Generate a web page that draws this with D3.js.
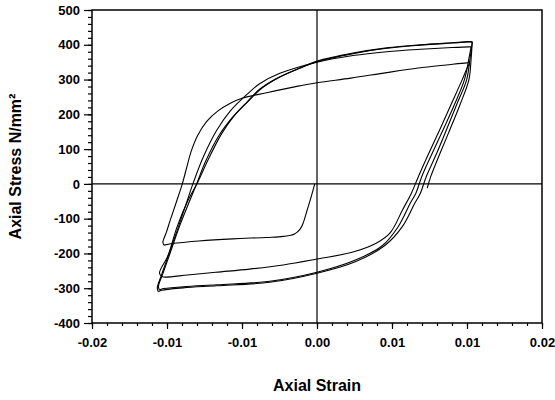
<!DOCTYPE html>
<html>
<head>
<meta charset="utf-8">
<script src="https://cdn.jsdelivr.net/npm/d3@7"></script>
<style>
body { margin: 0; background: #fff; }
svg { display: block; }
.tick text { font-family: "Liberation Sans", Arial, sans-serif; font-weight: bold; font-size: 13px; fill: #000; }
.tick line { stroke: #000; stroke-width: 1.2; }
</style>
</head>
<body>
<div id="chart"></div>
<script>
// [strain, stress] readings, one array per branch of the cyclic test
const initialCompression = [[-0.0002, 0], [-0.0005, -35], [-0.0009, -78], [-0.0012, -110], [-0.0015, -130], [-0.0020, -144],
    [-0.0030, -151], [-0.0045, -154], [-0.0075, -158], [-0.0105, -164], [-0.0125, -170], [-0.0136, -176]];

const tension1 = [[-0.0136, -176], [-0.0137, -168], [-0.0134, -140], [-0.0130, -100], [-0.0125, -52], [-0.0120, -3],
    [-0.0116, 45], [-0.0112, 92], [-0.0106, 140], [-0.0098, 180], [-0.0088, 210], [-0.0077, 232], [-0.0066, 247],
    [-0.0045, 262], [-0.0020, 279], [0, 291], [0.0030, 304], [0.0062, 320], [0.0090, 333], [0.0115, 342],
    [0.0133, 348], [0.0136, 348]];

const unload1 = [[0.0136, 348], [0.0133, 330], [0.0129, 299], [0.0119, 227], [0.0109, 155], [0.0099, 85], [0.0090, 20],
    [0.0084, -26], [0.0076, -75], [0.0065, -141], [0.0053, -170], [0.0032, -196], [0, -216], [-0.0030, -233],
    [-0.0060, -245], [-0.0090, -254], [-0.0115, -262], [-0.0135, -268], [-0.0138, -266]];

const tension2 = [[-0.0138, -266], [-0.0140, -256], [-0.0133, -210], [-0.0126, -150], [-0.0119, -83], [-0.0114, -35],
    [-0.0110, 3], [-0.0101, 78], [-0.0089, 155], [-0.0077, 210], [-0.0062, 258], [-0.0051, 288], [-0.0033, 318],
    [0, 350], [0.0032, 369], [0.0062, 380], [0.0092, 387], [0.0120, 392], [0.0135, 394], [0.0137, 394]];

const unload2 = [[0.0137, 394], [0.0135, 360], [0.0131, 299], [0.0122, 227], [0.0112, 155], [0.0102, 85], [0.0093, 20],
    [0.0088, -26], [0.0083, -55], [0.0072, -124], [0.0058, -178], [0.0032, -222], [0, -254], [-0.0042, -280],
    [-0.0089, -290], [-0.0119, -296], [-0.0138, -302], [-0.0140, -305]];

const tension3 = [[-0.0140, -305], [-0.0141, -296], [-0.0137, -258], [-0.0131, -203], [-0.0122, -120], [-0.0114, -55],
    [-0.0107, 0], [-0.0099, 65], [-0.0087, 140], [-0.0075, 192], [-0.0062, 236], [-0.0051, 272], [-0.0036, 303],
    [-0.0015, 333], [0, 351], [0.0032, 374], [0.0062, 390], [0.0092, 399], [0.0120, 405], [0.0134, 408], [0.0138, 408]];

const unload3 = [[0.0138, 408], [0.0136, 360], [0.0133, 299], [0.0124, 227], [0.0115, 155], [0.0106, 85], [0.0097, 20],
    [0.0092, -26], [0.0087, -55], [0.0076, -122], [0.0060, -178], [0.0034, -224], [0, -257], [-0.0042, -283],
    [-0.0089, -293], [-0.0119, -299], [-0.0138, -306], [-0.0141, -310]];

const tension4 = [[-0.0141, -310], [-0.0142, -300], [-0.0138, -260], [-0.0132, -204], [-0.0124, -120], [-0.0115, -50],
    [-0.0106, 5], [-0.0097, 68], [-0.0085, 143], [-0.0074, 194], [-0.0061, 238], [-0.0050, 273], [-0.0035, 304],
    [-0.0014, 335], [0, 353], [0.0032, 376], [0.0062, 391], [0.0092, 400], [0.0120, 406], [0.0134, 409], [0.0138, 409]];

const unload4 = [[0.0138, 409], [0.0137, 360], [0.0135, 299], [0.0127, 227], [0.0118, 155], [0.0109, 85], [0.0101, 20],
    [0.0098, -12]];

const branches = [initialCompression, tension1, unload1, tension2, unload2, tension3, unload3, tension4, unload4];

const xTickValues = [-0.02, -0.013333, -0.006667, 0, 0.006667, 0.013333, 0.02];
const xTickLabels = ["-0.02", "-0.01", "-0.01", "0.00", "0.01", "0.01", "0.02"];
const yTickValues = [-400, -300, -200, -100, 0, 100, 200, 300, 400, 500];

const width = 555, height = 400;
const margin = {top: 10, left: 92};
const plotW = 450, plotH = 313;

const svg = d3.select("#chart").append("svg")
    .attr("width", width)
    .attr("height", height);

const g = svg.append("g")
    .attr("transform", "translate(" + margin.left + "," + margin.top + ")");

const x = d3.scaleLinear().domain([-0.02, 0.02]).range([0, plotW]);
const y = d3.scaleLinear().domain([-400, 500]).range([plotH, 0]);

// minor ticks: 5 steps between labelled ticks
const xMinor = d3.range(0, 31).map(i => -0.02 + i * 0.04 / 30);
const yMinor = d3.range(-400, 501, 20);

g.append("g")
    .attr("transform", "translate(0," + plotH + ")")
    .call(d3.axisBottom(x).tickValues(xMinor).tickSize(3).tickFormat("").tickSizeOuter(0))
    .call(a => a.select(".domain").remove());

g.append("g")
    .attr("transform", "translate(0," + plotH + ")")
    .call(d3.axisBottom(x).tickValues(xTickValues).tickSize(6).tickPadding(9).tickSizeOuter(0)
        .tickFormat((d, i) => xTickLabels[i]))
    .call(a => a.select(".domain").remove());

g.append("g")
    .call(d3.axisLeft(y).tickValues(yMinor).tickSize(4).tickFormat("").tickSizeOuter(0))
    .call(a => a.select(".domain").remove());

g.append("g")
    .call(d3.axisLeft(y).tickValues(yTickValues).tickSize(8).tickPadding(4).tickSizeOuter(0)
        .tickFormat(d => String(d)))
    .call(a => a.select(".domain").remove());

// zero lines
g.append("line")
    .attr("x1", 0).attr("x2", plotW)
    .attr("y1", y(0)).attr("y2", y(0))
    .attr("stroke", "#000").attr("stroke-width", 1.3);

g.append("line")
    .attr("x1", x(0)).attr("x2", x(0))
    .attr("y1", 0).attr("y2", plotH)
    .attr("stroke", "#000").attr("stroke-width", 1.2);

const line = d3.line()
    .x(d => x(d[0]))
    .y(d => y(d[1]))
    .curve(d3.curveCatmullRom.alpha(0.5));

g.selectAll(".branch")
    .data(branches)
    .enter().append("path")
    .attr("class", "branch")
    .attr("d", line)
    .attr("fill", "none")
    .attr("stroke", "#000")
    .attr("stroke-width", 1.1);

g.append("rect")
    .attr("width", plotW)
    .attr("height", plotH)
    .attr("fill", "none")
    .attr("stroke", "#000")
    .attr("stroke-width", 1.5);

svg.append("text")
    .attr("x", margin.left + plotW / 2)
    .attr("y", 391)
    .style("text-anchor", "middle")
    .style("font-family", "'Liberation Sans', Arial, sans-serif")
    .style("font-weight", "bold")
    .style("font-size", "16px")
    .text("Axial Strain");

svg.append("text")
    .attr("transform", "rotate(-90)")
    .attr("x", -(margin.top + plotH / 2))
    .attr("y", 21)
    .style("text-anchor", "middle")
    .style("font-family", "'Liberation Sans', Arial, sans-serif")
    .style("font-weight", "bold")
    .style("font-size", "16px")
    .text("Axial Stress N/mm²");
</script>
</body>
</html>
